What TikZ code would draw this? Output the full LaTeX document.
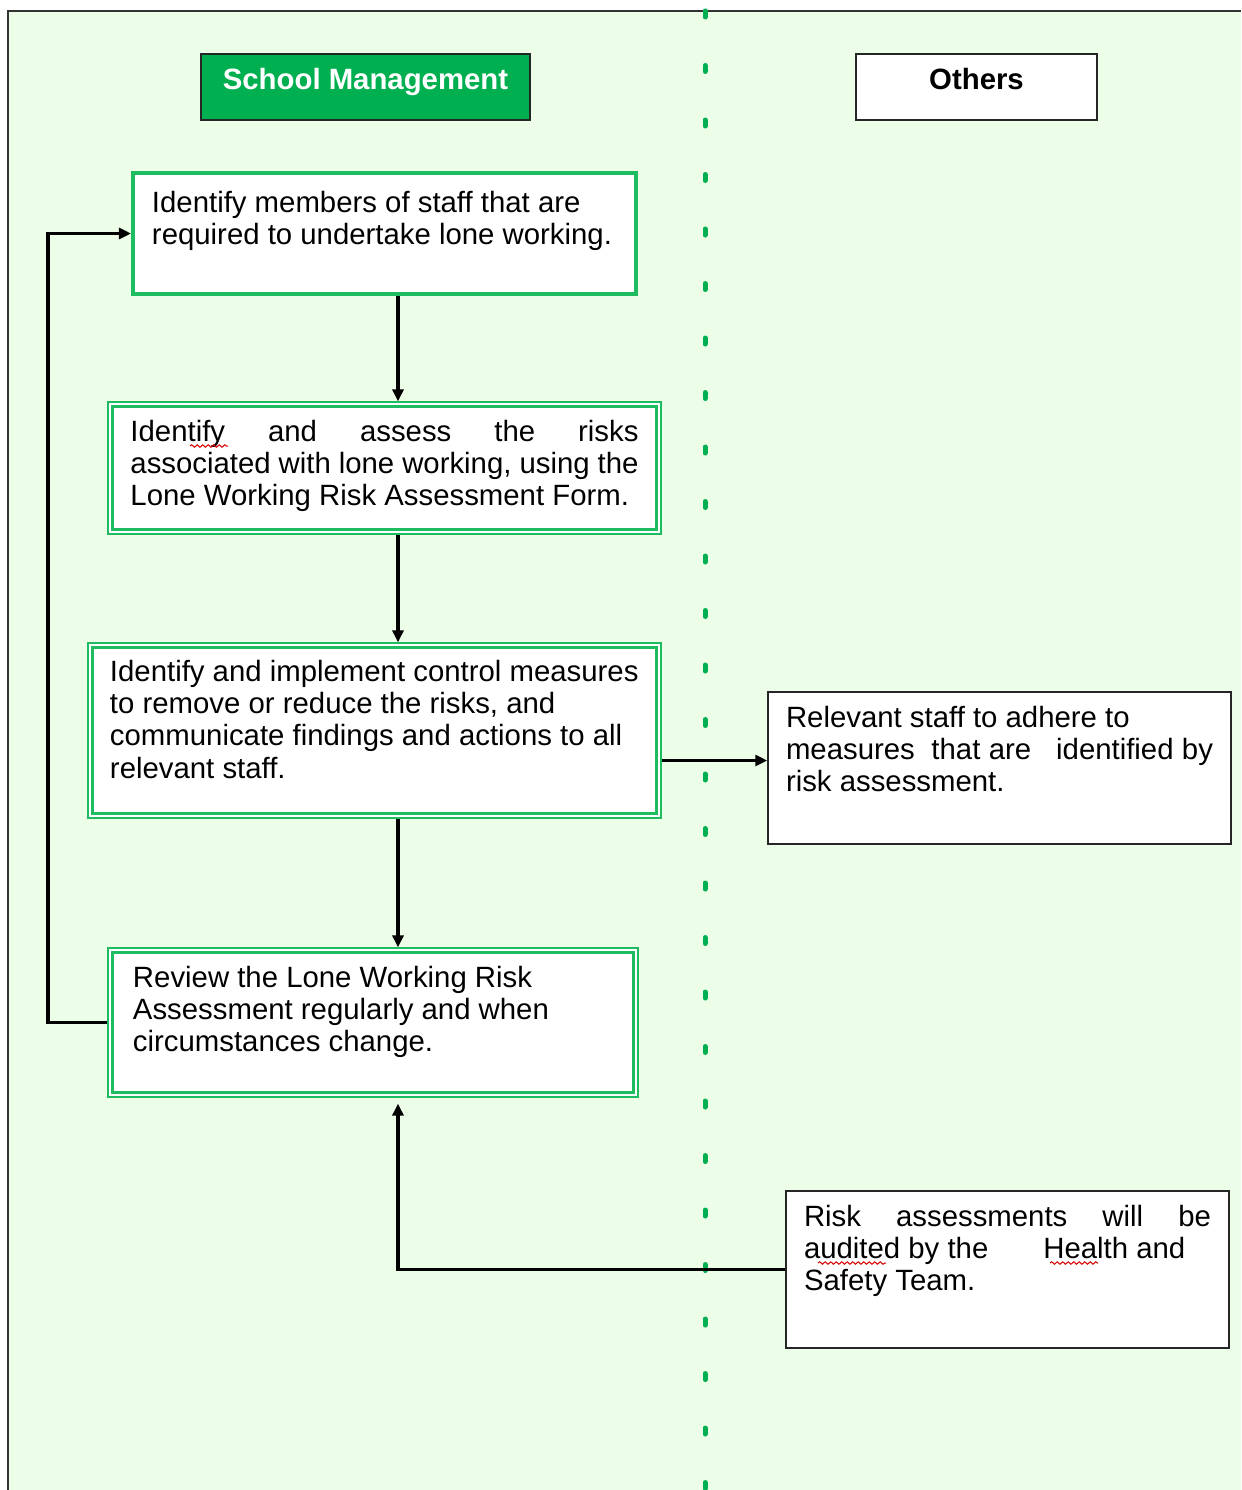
\documentclass[tikz,border=0pt]{standalone}
\usepackage{fontspec}
\setmainfont{Liberation Sans}
\usetikzlibrary{arrows.meta,decorations.pathmorphing}

\definecolor{bggreen}{RGB}{237,254,232}
\definecolor{smgreen}{RGB}{0,176,80}
\definecolor{boxgreen}{RGB}{30,188,96}

\newcommand{\steptext}[3]{\parbox[c][#2][t]{#1}{#3}}

\begin{document}
\fontsize{16.7}{18.4}\selectfont
\begin{tikzpicture}[x=0.2mm, y=-0.2mm,
  flow/.style={line width=0.7mm, -{Triangle[length=2.4mm,width=2.2mm]}},
  stepbox/.style={draw=boxgreen, fill=white, line width=0.8mm, inner sep=0pt},
  twinbox/.style={draw=boxgreen, fill=white, line width=0.25mm, inner sep=0pt},
  otherbox/.style={draw=black!85, fill=white, line width=0.3mm, inner sep=0pt},
  headbox/.style={draw=black!85, line width=0.3mm, inner sep=0pt, text height=7.1mm, text depth=6.1mm, font=\bfseries},
  squiggle/.style={red!85!black, line width=0.2mm, decorate, decoration={snake, amplitude=0.25mm, segment length=1.1mm}}]
\useasboundingbox (0,0) rectangle (1241,1490);

% page and divider
\fill[bggreen] (8,11) rectangle (1241,1490);
\draw[black!80, line width=0.4mm] (8,1490) -- (8,11) -- (1241,11);
\draw[smgreen, line width=1mm, line cap=round, dash pattern=on 1.2mm off 9.7mm] (705,11) -- (705,1490);

% headings
\node[headbox, fill=smgreen, text=white, minimum width=65.8mm] (school) at (365.5,87) {School Management};
\node[headbox, fill=white, minimum width=48.2mm] (others) at (976.5,87) {Others};

% school management steps
\node[stepbox, minimum width=100.6mm, minimum height=24.2mm] (members) at (384.5,233.5)
  {\steptext{93mm}{17mm}{Identify members of staff that are\\required to undertake lone working.}};
\node[twinbox, minimum width=110.6mm, minimum height=26.4mm] (assess) at (384.5,468)
  {\steptext{101.6mm}{19.2mm}{Identify and assess the risks\linebreak associated with lone working, using the\linebreak Lone Working Risk Assessment Form.}};
\node[twinbox, minimum width=114.6mm, minimum height=35mm] (control) at (374.5,730.5)
  {\steptext{105.8mm}{28.2mm}{Identify and implement control measures\\to remove or reduce the risks, and\\communicate findings and actions to all\\relevant staff.}};
\node[twinbox, minimum width=106mm, minimum height=29.8mm] (review) at (373,1022.5)
  {\steptext{96mm}{22.6mm}{Review the Lone Working Risk\\Assessment regularly and when\\circumstances change.}};
\foreach \n in {assess,control,review}
  \draw[boxgreen, line width=0.7mm] ([shift={(5,5)}]\n.north west) rectangle ([shift={(-5,-5)}]\n.south east);

% others
\node[otherbox, minimum width=92.6mm, minimum height=30.4mm] (adhere) at (999.5,768)
  {\steptext{85.4mm}{24.8mm}{Relevant staff to adhere to\\measures\ \ that are\ \ \ identified by\linebreak risk assessment.}};
\node[otherbox, minimum width=88.6mm, minimum height=31.4mm] (audit) at (1007.5,1269.5)
  {\steptext{81.4mm}{25.8mm}{Risk assessments will be\linebreak audited by the\hspace{11mm}Health and\\Safety Team.}};

% spelling marks
\draw[squiggle] (190,446) -- (228,446);
\draw[squiggle] (818,1263) -- (886,1263);
\draw[squiggle] (1050,1263) -- (1098,1263);

% connectors
\coordinate (spine) at (398,0);
\coordinate (loop) at (48,0);
\coordinate (tap) at ([yshift=-6mm]control.east);
\draw[flow] (members.south -| spine) -- (assess.north -| spine);
\draw[flow] (assess.south -| spine) -- (control.north -| spine);
\draw[flow] (control.south -| spine) -- (review.north -| spine);
\draw[flow] (tap) -- (tap -| adhere.west);
\draw[flow] (review.west) -- (review.west -| loop) -- (members.west -| loop) -- (members.west);
\draw[flow, shorten >=1.2mm] (audit.west) -| (review.south -| spine);
\end{tikzpicture}
\end{document}
